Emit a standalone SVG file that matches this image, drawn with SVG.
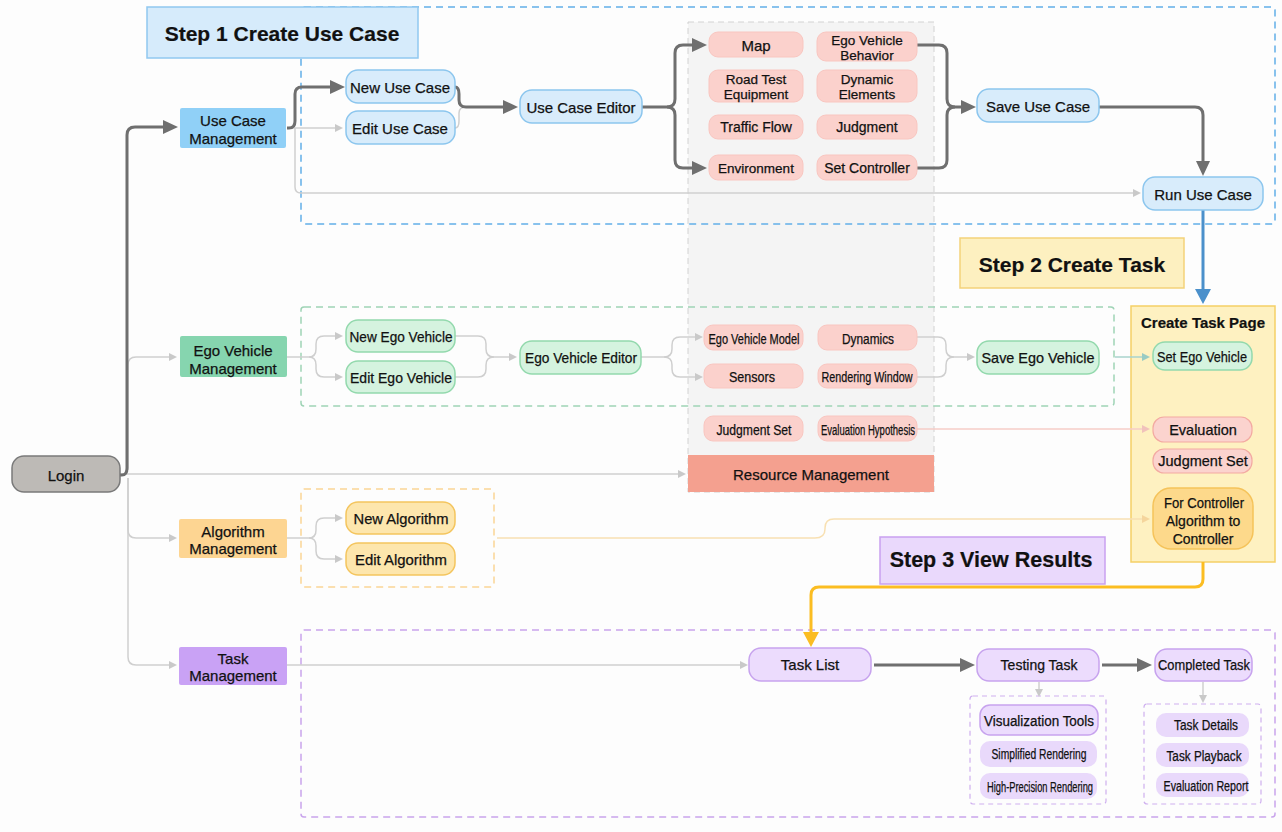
<svg xmlns="http://www.w3.org/2000/svg" width="1282" height="832" viewBox="0 0 1282 832">
<defs>
<style>
.t{font-family:"Liberation Sans",Arial,sans-serif;fill:#111;stroke:#111;stroke-width:0.25;text-anchor:middle;dominant-baseline:central;font-size:15px}
.b{font-weight:bold;stroke-width:0.2}
.s14{font-size:14px}
.s13{font-size:13.5px}
.dk{fill:none;stroke:#6f6f6f;stroke-width:3}
.lt{fill:none;stroke:#cfcfcf;stroke-width:1.5}
.pk{fill:none;stroke:#f6cdc7;stroke-width:1.5}
.og{fill:none;stroke:#f8e0b2;stroke-width:1.5}
.tl{fill:none;stroke:#a9d3cc;stroke-width:1.5}
.bl{fill:none;stroke:#4b90cb;stroke-width:3}
.gd{fill:none;stroke:#fbbd22;stroke-width:3}
.cont{fill:none;stroke-width:1.5;stroke-dasharray:7 5}
.pb{fill:#d8ecfb;stroke:#8cc6ee;stroke-width:1.5}
.pg{fill:#d5f3df;stroke:#93d9ad;stroke-width:1.5}
.po{fill:#fde6ad;stroke:#f4c55e;stroke-width:1.5}
.pp{fill:#ecdcfd;stroke:#c7a3ee;stroke-width:1.5}
.pq{fill:#e9d9fb}
.pr{fill:#fbd1cc;stroke:#f9c6c0;stroke-width:1}
.pr2{fill:#fbd3ce;stroke:#f3aaa2;stroke-width:1.2}
</style>
<marker id="ad" markerUnits="userSpaceOnUse" markerWidth="15" markerHeight="14" refX="0" refY="7" orient="auto"><path d="M0,0 L15,7 L0,14 z" fill="#6f6f6f"/></marker>
<marker id="ab" markerUnits="userSpaceOnUse" markerWidth="15" markerHeight="16" refX="0" refY="8" orient="auto"><path d="M0,0 L15,8 L0,16 z" fill="#4b90cb"/></marker>
<marker id="ag" markerUnits="userSpaceOnUse" markerWidth="15" markerHeight="16" refX="0" refY="8" orient="auto"><path d="M0,0 L15,8 L0,16 z" fill="#fbbd22"/></marker>
<marker id="al" markerUnits="userSpaceOnUse" markerWidth="8" markerHeight="8" refX="0" refY="4" orient="auto"><path d="M0,0 L8,4 L0,8 z" fill="#c9c9c9"/></marker>
<marker id="ap" markerUnits="userSpaceOnUse" markerWidth="8" markerHeight="8" refX="0" refY="4" orient="auto"><path d="M0,0 L8,4 L0,8 z" fill="#f1c2bb"/></marker>
<marker id="ao" markerUnits="userSpaceOnUse" markerWidth="8" markerHeight="8" refX="0" refY="4" orient="auto"><path d="M0,0 L8,4 L0,8 z" fill="#f5d59c"/></marker>
<marker id="at" markerUnits="userSpaceOnUse" markerWidth="8" markerHeight="8" refX="0" refY="4" orient="auto"><path d="M0,0 L8,4 L0,8 z" fill="#99cbc3"/></marker>
</defs>
<rect x="0" y="0" width="1282" height="832" fill="#fdfdfd"/>

<!-- resource panel -->
<g id="resource-panel">
<rect x="688" y="22" width="246" height="470" fill="#f4f4f4" stroke="#d2d2d2" stroke-width="1" stroke-dasharray="6 4"/>
</g>

<!-- containers -->
<g id="containers">
<rect class="cont" x="301" y="7" width="974" height="217" rx="3" stroke="#62aee8"/>
<rect class="cont" x="301" y="307" width="813" height="99" rx="3" stroke="#9ed3b5"/>
<rect class="cont" x="301" y="489" width="193" height="98" rx="3" stroke="#fad595"/>
<rect class="cont" x="301" y="630" width="974" height="187" rx="3" stroke="#c9a4ec"/>
<rect x="970" y="696" width="136" height="108" rx="3" fill="none" stroke="#cfb0ef" stroke-width="1.2" stroke-dasharray="5 4"/>
<rect x="1144" y="704" width="117" height="100" rx="3" fill="none" stroke="#cfb0ef" stroke-width="1.2" stroke-dasharray="5 4"/>
</g>

<!-- create task page panel -->
<g id="create-task-page">
<rect x="1131" y="306" width="144" height="256" fill="#fef1c1" stroke="#f5cf66" stroke-width="1.5"/>
<text class="t b" x="1203" y="322">Create Task Page</text>
</g>

<!-- connectors -->
<g id="connectors">
<path class="lt" marker-end="url(#al)" d="M128,470 V365 Q128,357 136,357 H169"/>
<path class="lt" marker-end="url(#al)" d="M120,474 H678"/>
<path class="lt" marker-end="url(#al)" d="M128,478 V530 Q128,538 136,538 H169"/>
<path class="lt" marker-end="url(#al)" d="M128,478 V657 Q128,665 136,665 H169"/>
<path class="lt" marker-end="url(#al)" d="M287,128 H335"/>
<path class="lt" marker-end="url(#al)" d="M295,128 V187 Q295,193 301,193 H1133"/>
<path class="lt" d="M455,128 Q459,128 459,121 V113 Q459,107 466,107"/>
<path class="lt" marker-end="url(#al)" d="M287,357 H309 Q316,357 316,349 V344 Q316,336 324,336 H335"/>
<path class="lt" marker-end="url(#al)" d="M309,357 Q316,357 316,365 V369 Q316,377 324,377 H335"/>
<path class="lt" marker-end="url(#al)" d="M455,336 H478 Q486,336 486,344 V349 Q486,357 494,357 H509"/>
<path class="lt" d="M455,377 H478 Q486,377 486,369 V365 Q486,357 494,357"/>
<path class="lt" marker-end="url(#al)" d="M641,357 H664 Q672,357 672,349 V345 Q672,337 680,337 H695"/>
<path class="lt" marker-end="url(#al)" d="M664,357 Q672,357 672,365 V369 Q672,377 680,377 H695"/>
<path class="lt" marker-end="url(#al)" d="M917,337 H938 Q946,337 946,345 V349 Q946,357 954,357 H967"/>
<path class="lt" d="M917,377 H938 Q946,377 946,369 V365 Q946,357 954,357"/>
<path class="tl" marker-end="url(#at)" d="M1115,357 H1142"/>
<path class="pk" marker-end="url(#ap)" d="M917,429 H1142"/>
<path class="lt" marker-end="url(#al)" d="M287,538 H309 Q316,538 316,530 V526 Q316,518 324,518 H335"/>
<path class="lt" marker-end="url(#al)" d="M309,538 Q316,538 316,546 V551 Q316,559 324,559 H335"/>
<path class="og" marker-end="url(#ao)" d="M497,538 H815 Q825,538 825,529 V528 Q825,519 834,519 H1142"/>
<path class="lt" marker-end="url(#al)" d="M287,665 H740"/>
<path class="lt" marker-end="url(#al)" d="M1039,682 V689"/>
<path class="lt" marker-end="url(#al)" d="M1203,682 V695"/>

<path class="dk" marker-end="url(#ad)" d="M120,475 H122 Q127,475 127,468 V135 Q127,127 135,127 H163"/>
<path class="dk" marker-end="url(#ad)" d="M287,128 H289 Q295,128 295,121 V94 Q295,87 302,87 H330"/>
<path class="dk" marker-end="url(#ad)" d="M455,87 Q459,87 459,94 V100 Q459,107 466,107 H503"/>
<path class="dk" marker-end="url(#ad)" d="M642,107 H667 Q675,107 675,99 V53 Q675,45 683,45 H692"/>
<path class="dk" marker-end="url(#ad)" d="M667,107 Q675,107 675,115 V160 Q675,168 683,168 H692"/>
<path class="dk" marker-end="url(#ad)" d="M917,45 H939 Q947,45 947,53 V99 Q947,107 955,107 H961"/>
<path class="dk" d="M917,168 H939 Q947,168 947,160 V115 Q947,107 955,107"/>
<path class="dk" marker-end="url(#ad)" d="M1099,107 H1195 Q1203,107 1203,115 V161"/>
<path class="dk" marker-end="url(#ad)" d="M874,665 H960"/>
<path class="dk" marker-end="url(#ad)" d="M1102,665 H1137"/>
<path class="bl" marker-end="url(#ab)" d="M1203,210 V289"/>
<path class="gd" marker-end="url(#ag)" d="M1203,562 V579 Q1203,587 1195,587 H819 Q811,587 811,595 V632"/>
</g>

<!-- step titles -->
<g id="step1">
<rect x="147" y="7" width="271" height="51" fill="#d6ebfb" stroke="#90c8f0" stroke-width="1.5"/>
<text class="t b" x="282" y="33" style="font-size:21px">Step 1 Create Use Case</text>
</g>
<g id="step2">
<rect x="960" y="238" width="224" height="50" fill="#fdf0c0" stroke="#f3d27a" stroke-width="1.5"/>
<text class="t b" x="1072" y="264" style="font-size:21px">Step 2 Create Task</text>
</g>
<g id="step3">
<rect x="880" y="537" width="225" height="47" fill="#ead9fc" stroke="#c9a0f0" stroke-width="1.5"/>
<text class="t b" x="991" y="560" style="font-size:21.5px">Step 3 View Results</text>
</g>

<!-- main nodes -->
<g id="login">
<rect x="12" y="456" width="108" height="36" rx="12" fill="#bdbab6" stroke="#7a7a7a" stroke-width="1.5"/>
<text class="t" x="66" y="475">Login</text>
</g>
<g id="use-case-management">
<rect x="180" y="108" width="106" height="40" rx="2" fill="#90d0f7"/>
<text class="t" x="233" y="120">Use Case</text>
<text class="t" x="233" y="138">Management</text>
</g>
<g id="ego-vehicle-management">
<rect x="180" y="336" width="107" height="41" rx="2" fill="#86d5af"/>
<text class="t" x="233" y="350">Ego Vehicle</text>
<text class="t" x="233" y="368">Management</text>
</g>
<g id="algorithm-management">
<rect x="179" y="519" width="108" height="39" rx="2" fill="#fdd592"/>
<text class="t" x="233" y="531">Algorithm</text>
<text class="t" x="233" y="548">Management</text>
</g>
<g id="task-management">
<rect x="179" y="647" width="108" height="38" rx="2" fill="#c9a2f5"/>
<text class="t" x="233" y="658">Task</text>
<text class="t" x="233" y="675">Management</text>
</g>

<!-- use case flow -->
<g id="new-use-case"><rect class="pb" x="346" y="70" width="109" height="33" rx="12"/><text class="t" x="400" y="87">New Use Case</text></g>
<g id="edit-use-case"><rect class="pb" x="346" y="111" width="109" height="33" rx="12"/><text class="t" x="400" y="128">Edit Use Case</text></g>
<g id="use-case-editor"><rect class="pb" x="520" y="90" width="122" height="33" rx="12"/><text class="t" x="581" y="107">Use Case Editor</text></g>
<g id="save-use-case"><rect class="pb" x="977" y="89" width="122" height="33" rx="12"/><text class="t" x="1038" y="106">Save Use Case</text></g>
<g id="run-use-case"><rect class="pb" x="1143" y="177" width="120" height="33" rx="12"/><text class="t" x="1203" y="194">Run Use Case</text></g>

<!-- resource pills -->
<g id="map"><rect class="pr" x="709" y="32" width="94" height="25" rx="9"/><text class="t" x="756" y="45">Map</text></g>
<g id="road-test-equipment"><rect class="pr" x="709" y="70" width="94" height="32" rx="9"/><text class="t" x="756" y="79" style="font-size:13.5px">Road Test</text><text class="t" x="756" y="94" style="font-size:13.5px">Equipment</text></g>
<g id="traffic-flow"><rect class="pr" x="709" y="115" width="94" height="24" rx="9"/><text class="t s14" x="756" y="127">Traffic Flow</text></g>
<g id="environment"><rect class="pr" x="709" y="155" width="94" height="25" rx="9"/><text class="t s13" x="756" y="168">Environment</text></g>
<g id="ego-vehicle-behavior"><rect class="pr" x="817" y="32" width="100" height="29" rx="9"/><text class="t" x="867" y="40" style="font-size:13.5px">Ego Vehicle</text><text class="t" x="867" y="55" style="font-size:13.5px">Behavior</text></g>
<g id="dynamic-elements"><rect class="pr" x="817" y="70" width="100" height="32" rx="9"/><text class="t" x="867" y="79" style="font-size:13.5px">Dynamic</text><text class="t" x="867" y="94" style="font-size:13.5px">Elements</text></g>
<g id="judgment"><rect class="pr" x="817" y="115" width="100" height="24" rx="9"/><text class="t s14" x="867" y="127">Judgment</text></g>
<g id="set-controller"><rect class="pr" x="817" y="155" width="100" height="25" rx="9"/><text class="t s14" x="867" y="168">Set Controller</text></g>
<g id="ego-vehicle-model"><rect class="pr" x="704" y="325" width="99" height="25" rx="9"/><text class="t s14" x="754" y="339" textLength="91" lengthAdjust="spacingAndGlyphs">Ego Vehicle Model</text></g>
<g id="sensors"><rect class="pr" x="704" y="364" width="99" height="24" rx="9"/><text class="t s14" x="752" y="377" textLength="46" lengthAdjust="spacingAndGlyphs">Sensors</text></g>
<g id="dynamics"><rect class="pr" x="818" y="325" width="99" height="25" rx="9"/><text class="t s14" x="868" y="339" textLength="52" lengthAdjust="spacingAndGlyphs">Dynamics</text></g>
<g id="rendering-window"><rect class="pr" x="818" y="364" width="99" height="24" rx="9"/><text class="t s14" x="867" y="377" textLength="91" lengthAdjust="spacingAndGlyphs">Rendering Window</text></g>
<g id="judgment-set-res"><rect class="pr" x="704" y="416" width="99" height="25" rx="9"/><text class="t s14" x="754" y="430" textLength="75" lengthAdjust="spacingAndGlyphs">Judgment Set</text></g>
<g id="evaluation-hypothesis"><rect class="pr" x="818" y="416" width="99" height="25" rx="9"/><text class="t s14" x="868" y="430" textLength="94" lengthAdjust="spacingAndGlyphs">Evaluation Hypothesis</text></g>
<g id="resource-management"><rect x="688" y="455" width="246" height="37" fill="#f4a08f"/><text class="t" x="811" y="474">Resource Management</text></g>

<!-- ego vehicle flow -->
<g id="new-ego-vehicle"><rect class="pg" x="346" y="320" width="109" height="32" rx="12"/><text class="t" x="401" y="336" textLength="103" lengthAdjust="spacingAndGlyphs">New Ego Vehicle</text></g>
<g id="edit-ego-vehicle"><rect class="pg" x="346" y="361" width="109" height="32" rx="12"/><text class="t" x="401" y="377" textLength="102" lengthAdjust="spacingAndGlyphs">Edit Ego Vehicle</text></g>
<g id="ego-vehicle-editor"><rect class="pg" x="520" y="341" width="121" height="33" rx="12"/><text class="t" x="581" y="357" textLength="112" lengthAdjust="spacingAndGlyphs">Ego Vehicle Editor</text></g>
<g id="save-ego-vehicle"><rect class="pg" x="977" y="341" width="122" height="33" rx="12"/><text class="t" x="1038" y="357" textLength="113" lengthAdjust="spacingAndGlyphs">Save Ego Vehicle</text></g>

<!-- algorithm flow -->
<g id="new-algorithm"><rect class="po" x="346" y="502" width="109" height="32" rx="12"/><text class="t" x="401" y="518" textLength="95" lengthAdjust="spacingAndGlyphs">New Algorithm</text></g>
<g id="edit-algorithm"><rect class="po" x="346" y="543" width="109" height="32" rx="12"/><text class="t" x="401" y="559" textLength="92" lengthAdjust="spacingAndGlyphs">Edit Algorithm</text></g>

<!-- create task page items -->
<g id="set-ego-vehicle"><rect class="pg" x="1153" y="342" width="99" height="28" rx="12"/><text class="t" x="1202" y="356" textLength="90" lengthAdjust="spacingAndGlyphs">Set Ego Vehicle</text></g>
<g id="evaluation"><rect class="pr2" x="1153" y="417" width="99" height="25" rx="11"/><text class="t" x="1203" y="430" style="font-size:14.5px">Evaluation</text></g>
<g id="judgment-set"><rect class="pr2" x="1153" y="449" width="99" height="24" rx="11"/><text class="t" x="1203" y="461" style="font-size:14.5px">Judgment Set</text></g>
<g id="for-controller"><rect x="1153" y="488" width="100" height="61" rx="18" fill="#fdd98b" stroke="#f5c35a" stroke-width="1.5"/>
<text class="t s14" x="1204" y="503" textLength="80" lengthAdjust="spacingAndGlyphs">For Controller</text>
<text class="t s14" x="1203" y="521">Algorithm to</text>
<text class="t s14" x="1203" y="539">Controller</text></g>

<!-- task flow -->
<g id="task-list"><rect class="pp" x="749" y="648" width="122" height="33" rx="12"/><text class="t" x="810" y="664">Task List</text></g>
<g id="testing-task"><rect class="pp" x="977" y="649" width="122" height="32" rx="12"/><text class="t s14" x="1039" y="665">Testing Task</text></g>
<g id="completed-task"><rect class="pp" x="1155" y="649" width="97" height="32" rx="12"/><text class="t s14" x="1204" y="665" textLength="92" lengthAdjust="spacingAndGlyphs">Completed Task</text></g>
<g id="visualization-tools"><rect class="pp" x="980" y="705" width="118" height="30" rx="10"/><text class="t s14" x="1039" y="721" textLength="110" lengthAdjust="spacingAndGlyphs">Visualization Tools</text></g>
<g id="simplified-rendering"><rect class="pq" x="980" y="741" width="117" height="26" rx="10"/><text class="t s14" x="1039" y="754" textLength="95" lengthAdjust="spacingAndGlyphs">Simplified Rendering</text></g>
<g id="high-precision-rendering"><rect class="pq" x="980" y="773" width="117" height="26" rx="10"/><text class="t s14" x="1040" y="787" textLength="106" lengthAdjust="spacingAndGlyphs">High-Precision Rendering</text></g>
<g id="task-details"><rect class="pq" x="1156" y="713" width="93" height="24" rx="10"/><text class="t s14" x="1206" y="725" textLength="64" lengthAdjust="spacingAndGlyphs">Task Details</text></g>
<g id="task-playback"><rect class="pq" x="1156" y="743" width="93" height="24" rx="10"/><text class="t s14" x="1204" y="756" textLength="75" lengthAdjust="spacingAndGlyphs">Task Playback</text></g>
<g id="evaluation-report"><rect class="pq" x="1156" y="773" width="93" height="24" rx="10"/><text class="t s14" x="1206" y="786" textLength="85" lengthAdjust="spacingAndGlyphs">Evaluation Report</text></g>
</svg>
